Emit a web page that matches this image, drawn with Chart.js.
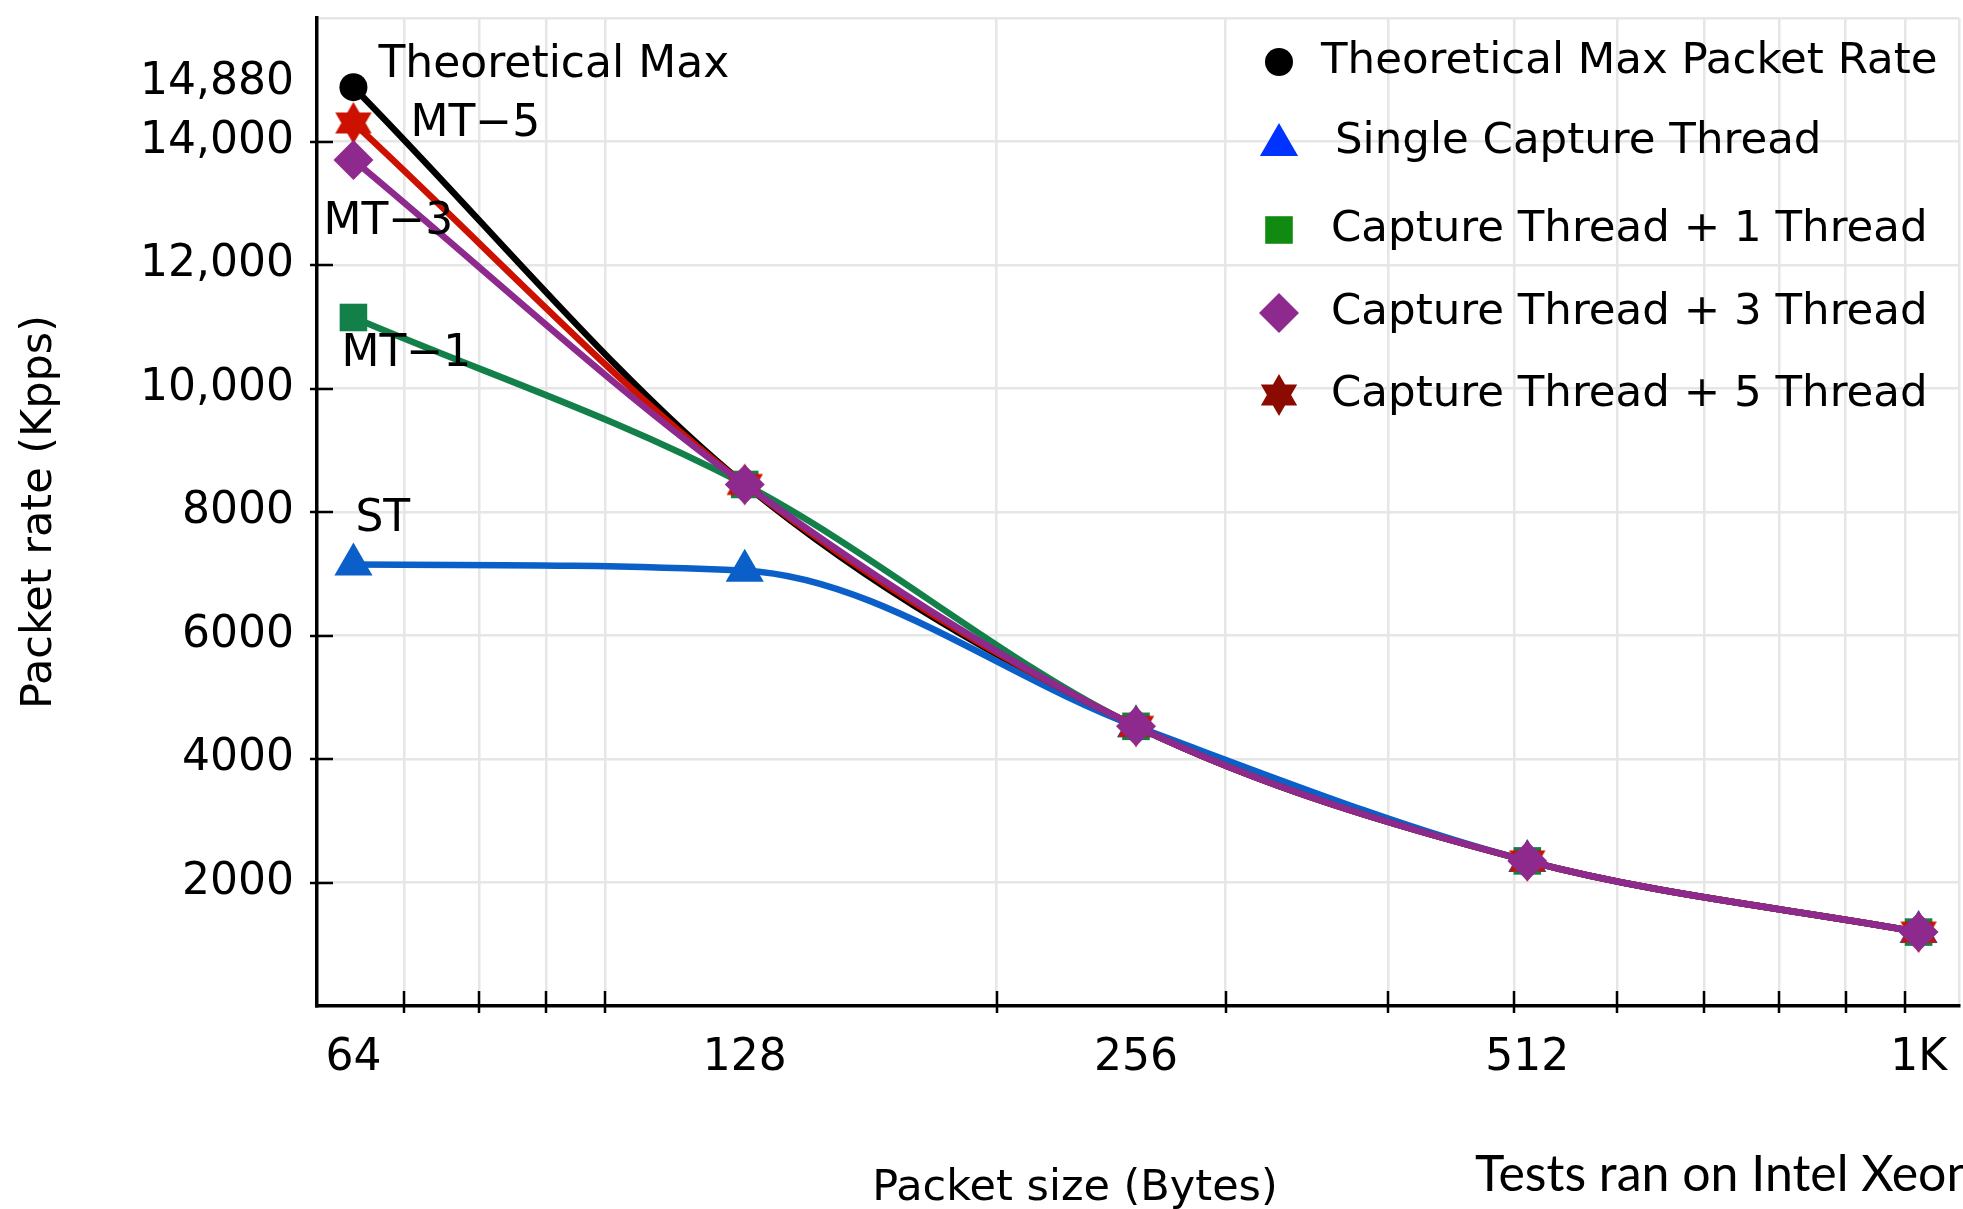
<!DOCTYPE html>
<html><head><meta charset="utf-8">
<script src="https://cdn.jsdelivr.net/npm/chart.js@4.4.1/dist/chart.umd.min.js"></script>
<style>html,body{margin:0;padding:0;background:#fff;overflow:hidden}#wrap{width:1963px;height:1209px;position:relative}</style>
</head><body><div id="wrap"><canvas id="c"></canvas></div>
<script>
// ---------------- data ----------------
const packetSizes = [64, 128, 256, 512, 1024];
const xTickLabels = ['64', '128', '256', '512', '1K'];
const xMinorTicks = [70, 80, 90, 100, 200, 300, 400, 500, 600, 700, 800, 900, 1000];
const yTickValues = [2000, 4000, 6000, 8000, 10000, 12000, 14000, 14880];
const yTickLabels = ['2000', '4000', '6000', '8000', '10,000', '12,000', '14,000', '14,880'];
const theoreticalMax = [14880, 8446, 4529, 2350, 1197];
const singleThread   = [7150, 7050, 4529, 2350, 1197];
const captureT1      = [11150, 8446, 4529, 2350, 1197];
const captureT3      = [13700, 8446, 4529, 2350, 1197];
const captureT5      = [14300, 8446, 4529, 2350, 1197];
const seriesNames = ['Theoretical Max Packet Rate', 'Single Capture Thread', 'Capture Thread + 1 Thread', 'Capture Thread + 3 Thread', 'Capture Thread + 5 Thread'];
const pointLabels = ['Theoretical Max', 'ST', 'MT\u22121', 'MT\u22123', 'MT\u22125'];
const xTitle = 'Packet size (Bytes)';
const yTitle = 'Packet rate (Kpps)';
const footNote = 'Tests ran on Intel Xeon';

// ---------------- styles ----------------
const X_MIN = 60, X_MAX = 1100, Y_MIN = 0, Y_MAX = 16000;
const FONT = '"DejaVu Sans", sans-serif';
const GRID = '#e6e6e6';
const lineColors = ['#000000', '#0a5fc8', '#13804a', '#8e2a8e', '#cc1100'];
const legendColors = ['#000000', '#0033ff', '#118a11', '#8e2a8e', '#8b0b00'];

function makeStar(color, R) {
  const r = R / Math.sqrt(3);
  const w = Math.ceil(2 * R) + 2;
  const c = document.createElement('canvas');
  c.width = w; c.height = w;
  const g = c.getContext('2d');
  g.fillStyle = color;
  g.beginPath();
  for (let i = 0; i < 12; i++) {
    const a = -Math.PI / 2 + i * Math.PI / 6;
    const rr = i % 2 === 0 ? R : r;
    g.lineTo(w / 2 + rr * Math.cos(a), w / 2 + rr * Math.sin(a));
  }
  g.closePath(); g.fill();
  return c;
}
const starPlot = makeStar('#cc1100', 21);
const starLegend = makeStar('#8b0b00', 21);

const markerStyles = [
  { pointStyle: 'circle', radius: 14 },
  { pointStyle: 'triangle', radius: 22 },
  { pointStyle: 'rect', radius: 19.5 },
  { pointStyle: 'rectRot', radius: 20 },
  { pointStyle: starPlot, radius: 21 }
];
const allSeries = [theoreticalMax, singleThread, captureT1, captureT3, captureT5];
const drawOrder = [5, 4, 3, 1, 2];

const datasets = allSeries.map((vals, i) => ({
  label: seriesNames[i],
  data: packetSizes.map((s, k) => ({ x: s, y: vals[k] })),
  borderColor: lineColors[i],
  backgroundColor: lineColors[i],
  borderWidth: 6.5,
  pointStyle: markerStyles[i].pointStyle,
  pointRadius: markerStyles[i].radius,
  pointHoverRadius: markerStyles[i].radius,
  pointBorderWidth: 0,
  pointBackgroundColor: lineColors[i],
  cubicInterpolationMode: 'monotone',
  order: drawOrder[i],
  clip: false
}));

// annotation offsets (text left/middle relative to first point)
const annOffsets = [[25, -22], [2, -45], [-12, 37], [-30, 63], [57, 2]];
// legend layout
const legendRows = [62, 142, 230, 313, 395];
const legendTextX = [1321, 1335, 1331, 1331, 1331];
const legendMarkerX = 1279;

const decor = {
  id: 'decor',
  afterDraw(chart) {
    const { ctx, chartArea: ca, scales: { x, y } } = chart;
    ctx.save();
    // tick marks
    ctx.strokeStyle = '#000'; ctx.lineWidth = 2.5;
    ctx.beginPath();
    yTickValues.filter(v => v % 2000 === 0).forEach(v => {
      const py = Math.round(y.getPixelForValue(v));
      ctx.moveTo(ca.left - 7, py); ctx.lineTo(ca.left + 16, py);
    });
    xMinorTicks.forEach(v => {
      const px = Math.round(x.getPixelForValue(v));
      ctx.moveTo(px, ca.bottom + 7); ctx.lineTo(px, ca.bottom - 15);
    });
    ctx.stroke();

    // point annotations
    ctx.fillStyle = '#000';
    ctx.font = '44px ' + FONT;
    ctx.textBaseline = 'middle'; ctx.textAlign = 'left';
    allSeries.forEach((vals, i) => {
      const px = x.getPixelForValue(packetSizes[0]);
      const py = y.getPixelForValue(vals[0]);
      ctx.fillText(pointLabels[i], px + annOffsets[i][0], py + annOffsets[i][1]);
    });

    // legend
    ctx.font = '43.5px ' + FONT;
    seriesNames.forEach((name, i) => {
      const ly = legendRows[i];
      if (i === 4) {
        ctx.drawImage(starLegend, legendMarkerX - starLegend.width / 2, ly - starLegend.height / 2);
      } else {
        ctx.fillStyle = legendColors[i];
        Chart.helpers.drawPoint(ctx, { pointStyle: markerStyles[i].pointStyle, radius: markerStyles[i].radius, borderWidth: 0, rotation: 0 }, legendMarkerX, i === 1 ? ly + 3 : ly);
      }
      ctx.fillStyle = '#000';
      ctx.fillText(name, legendTextX[i], ly);
    });

    // axis titles
    ctx.font = '43px ' + FONT;
    ctx.textAlign = 'center';
    ctx.fillText(xTitle, 1075, 1189);
    ctx.save();
    ctx.translate(40, (ca.top + ca.bottom) / 2);
    ctx.rotate(-Math.PI / 2);
    ctx.fillText(yTitle, 0, 0);
    ctx.restore();

    ctx.textAlign = 'left';
    ctx.font = '50px Lato, ' + FONT;
    ctx.fillText(footNote, 1475, 1175);
    ctx.restore();
  }
};

Chart.defaults.font.family = FONT;
Chart.defaults.color = '#000';

new Chart(document.getElementById('c'), {
  type: 'line',
  data: { datasets },
  options: {
    responsive: true,
    maintainAspectRatio: false,
    animation: false,
    events: [],
    layout: { autoPadding: false, padding: { left: 0, right: 4, top: 18, bottom: 0 } },
    plugins: { legend: { display: false }, tooltip: { enabled: false }, title: { display: false } },
    scales: {
      x: {
        type: 'logarithmic',
        min: X_MIN, max: X_MAX,
        afterBuildTicks: (s) => {
          s.ticks = packetSizes.concat(xMinorTicks, [X_MAX]).sort((a, b) => a - b).map(v => ({ value: v }));
        },
        afterFit: (s) => { s.height = 1209 - 1006; s.paddingLeft = 0; s.paddingRight = 0; },
        ticks: {
          autoSkip: false, maxRotation: 0, minRotation: 0, padding: 0,
          font: { size: 44, lineHeight: 2.38 },
          callback: (v) => { const k = packetSizes.indexOf(v); return k >= 0 ? xTickLabels[k] : ''; }
        },
        grid: {
          drawTicks: false, lineWidth: 2.5,
          color: (c) => (c.tick && packetSizes.indexOf(c.tick.value) < 0) ? GRID : 'rgba(0,0,0,0)'
        },
        border: { display: true, color: '#000', width: 3.5 }
      },
      y: {
        type: 'linear',
        min: Y_MIN, max: Y_MAX,
        afterBuildTicks: (s) => { s.ticks = yTickValues.concat([Y_MAX]).map(v => ({ value: v })); },
        afterFit: (s) => { s.width = 317; s.paddingTop = 0; s.paddingBottom = 0; },
        ticks: {
          padding: 23,
          font: (c) => (c.tick && c.tick.value === 14880) ? { size: 44, lineHeight: 0.2 } : { size: 44 },
          callback: (v) => {
            const k = yTickValues.indexOf(v);
            if (k < 0) return '';
            return v === 14880 ? [yTickLabels[k], ''] : yTickLabels[k];
          }
        },
        grid: {
          drawTicks: false, lineWidth: 2.5,
          color: (c) => (c.tick && c.tick.value % 2000 === 0) ? GRID : 'rgba(0,0,0,0)'
        },
        border: { display: true, color: '#000', width: 3.5 }
      }
    }
  },
  plugins: [decor]
});
</script>
</body></html>
